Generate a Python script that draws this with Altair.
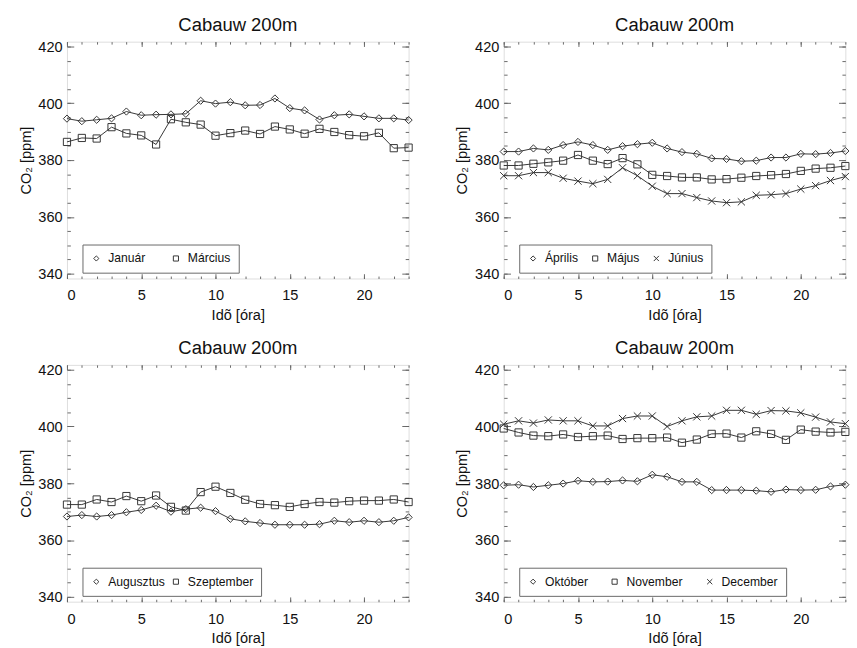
import altair as alt
import pandas as pd

hours = list(range(24))

januar = [394.6, 393.7, 394.2, 394.7, 397.1, 395.8, 396.0, 396.1, 396.3, 400.9, 399.9, 400.4,
          399.3, 399.4, 401.7, 398.3, 397.5, 394.3, 395.8, 396.1, 395.4, 394.7, 394.7, 394.1]
marcius = [386.4, 387.8, 387.6, 391.6, 389.4, 388.7, 385.5, 394.4, 393.3, 392.5, 388.6, 389.5,
           390.4, 389.2, 391.8, 390.8, 389.3, 391.0, 389.9, 388.8, 388.4, 389.6, 384.2, 384.4]

aprilis = [383.0, 383.0, 384.1, 383.6, 385.3, 386.4, 385.3, 383.6, 384.9, 385.6, 386.1, 384.1,
           382.8, 382.2, 380.6, 380.4, 379.6, 379.8, 380.9, 380.9, 382.2, 382.1, 382.5, 383.2]
majus = [378.1, 378.1, 378.7, 379.2, 379.8, 381.8, 379.8, 378.6, 380.7, 378.5, 374.8, 374.4,
         373.9, 373.9, 373.2, 373.3, 373.8, 374.4, 374.7, 375.1, 376.2, 377.0, 377.3, 377.9]
junius = [374.5, 374.5, 375.6, 375.6, 373.6, 372.6, 371.7, 373.2, 377.3, 374.5, 370.8, 368.2,
          368.2, 366.8, 365.6, 365.0, 365.3, 367.6, 367.8, 368.2, 369.8, 371.0, 372.8, 374.2]

augusztus = [368.3, 368.8, 368.3, 368.8, 369.8, 370.6, 372.1, 370.0, 370.9, 371.4, 370.2, 367.5,
             366.6, 366.0, 365.4, 365.4, 365.4, 365.6, 366.8, 366.3, 366.8, 366.3, 366.8, 368.0]
szeptember = [372.5, 372.5, 374.3, 373.4, 375.5, 373.7, 375.7, 371.7, 370.4, 376.9, 378.8, 376.6,
              374.2, 372.7, 372.3, 371.7, 372.7, 373.4, 373.2, 373.7, 373.9, 373.9, 374.3, 373.4]

oktober = [379.3, 379.5, 378.7, 379.3, 379.9, 380.9, 380.5, 380.6, 381.0, 380.7, 383.0, 382.3,
           380.5, 380.5, 377.6, 377.6, 377.6, 377.4, 377.0, 377.8, 377.6, 377.7, 378.9, 379.5]
november = [399.3, 397.9, 396.8, 396.6, 397.2, 396.3, 396.6, 396.8, 395.6, 395.9, 395.9, 396.1,
            394.3, 395.4, 397.4, 397.5, 396.1, 398.3, 397.4, 395.3, 398.9, 398.2, 397.9, 398.1]
december = [400.8, 402.0, 401.2, 402.3, 402.0, 402.0, 400.2, 400.2, 402.8, 403.7, 403.7, 400.0,
            402.0, 403.4, 403.7, 405.7, 405.7, 404.3, 405.6, 405.5, 404.8, 403.3, 401.6, 401.0]

x_major = [0, 5, 10, 15, 20]
x_minor = list(range(24))
y_major = [340, 360, 380, 400, 420]
y_minor = list(range(340, 421, 5))

panel_title = "Cabauw 200m"
x_title = "Idõ [óra]"
y_title = "CO₂ [ppm]"

FONT = "Liberation Sans"
INK = "#333333"
FRAME = "#666666"
CROSS = "M-1,-1L1,1M-1,1L1,-1"

W, H = 352, 244
XS = alt.Scale(domain=[0, 23], nice=False, zero=False)
YS = alt.Scale(domain=[338.3, 421.7], nice=False, zero=False)
XMAJ, XMIN = 4.9, 2.5
YMAJ, YMIN = 7, 3.5


def tick_axis(orient, values, size):
    return alt.Axis(orient=orient, values=values, tickSize=size, offset=-size,
                    labels=False, domain=False, grid=False, title=None,
                    ticks=True, tickColor=FRAME, tickWidth=1)


def panel(names, series, shapes, col_pad):
    rows = []
    for n, s in zip(names, series):
        for h, v in zip(hours, s):
            rows.append({"hour": h, "value": v, "series": n})
    df = pd.DataFrame(rows)
    base = alt.Chart(df)

    lines = base.mark_line(color=INK, strokeWidth=1).encode(
        x=alt.X("hour:Q", scale=XS, axis=alt.Axis(
            orient="bottom", values=x_major, ticks=False, tickSize=0, domain=False, grid=False,
            labelFont=FONT, labelFontSize=15, labelColor="#111", labelPadding=10,
            title=x_title, titleFont=FONT, titleFontSize=15, titleFontWeight="normal",
            titleColor="#111", titlePadding=5)),
        y=alt.Y("value:Q", scale=YS, axis=alt.Axis(
            orient="left", values=y_major, ticks=False, tickSize=0, domain=False, grid=False,
            labelFont=FONT, labelFontSize=15, labelColor="#111", labelPadding=5,
            title=y_title, titleFont=FONT, titleFontSize=15, titleFontWeight="normal",
            titleColor="#111", titlePadding=5)),
        detail="series:N",
    )

    pts = base.mark_point(filled=False, color=INK, strokeWidth=1, size=55, opacity=1).encode(
        x=alt.X("hour:Q", scale=XS, axis=None),
        y=alt.Y("value:Q", scale=YS, axis=None),
        shape=alt.Shape("series:N", scale=alt.Scale(domain=names, range=shapes),
                        sort=names,
                        legend=alt.Legend(
                            orient="none", legendX=16, legendY=209, direction="horizontal",
                            title=None, labelFont=FONT, labelFontSize=12.5, labelColor="#111",
                            symbolSize=28, symbolStrokeColor=INK, symbolFillColor="transparent",
                            symbolStrokeWidth=1, labelOffset=6, columnPadding=col_pad,
                            padding=8, strokeColor=FRAME, fillColor="white",
                            cornerRadius=0)),
    )

    t1 = base.mark_point(opacity=0).encode(
        x=alt.X("hour:Q", scale=XS, axis=tick_axis("bottom", x_major, XMAJ)),
        y=alt.Y("value:Q", scale=YS, axis=tick_axis("left", y_major, YMAJ)))
    t2 = base.mark_point(opacity=0).encode(
        x=alt.X("hour:Q", scale=XS, axis=tick_axis("bottom", x_minor, XMIN)),
        y=alt.Y("value:Q", scale=YS, axis=tick_axis("left", y_minor, YMIN)))
    t3 = base.mark_point(opacity=0).encode(
        x=alt.X("hour:Q", scale=XS, axis=tick_axis("top", x_major, XMAJ)),
        y=alt.Y("value:Q", scale=YS, axis=tick_axis("right", y_major, YMAJ)))
    t4 = base.mark_point(opacity=0).encode(
        x=alt.X("hour:Q", scale=XS, axis=tick_axis("top", x_minor, XMIN)),
        y=alt.Y("value:Q", scale=YS, axis=tick_axis("right", y_minor, YMIN)))

    return alt.layer(lines, pts, t1, t2, t3, t4).resolve_axis(
        x="independent", y="independent"
    ).properties(
        width=W, height=H,
        title=alt.TitleParams(panel_title, font=FONT, fontSize=19, fontWeight="normal",
                              color="#111", offset=5, anchor="middle"),
    )


p1 = panel(["Január", "Március"], [januar, marcius], ["diamond", "square"], 25)
p2 = panel(["Április", "Május", "Június"], [aprilis, majus, junius],
           ["diamond", "square", CROSS], 11)
p3 = panel(["Augusztus", "Szeptember"], [augusztus, szeptember], ["diamond", "square"], 5)
p4 = panel(["Október", "November", "December"], [oktober, november, december],
           ["diamond", "square", CROSS], 21)

chart = alt.vconcat(
    alt.hconcat(p1, p2, spacing=40).resolve_scale(shape="independent"),
    alt.hconcat(p3, p4, spacing=40).resolve_scale(shape="independent"),
    spacing=16,
).resolve_scale(shape="independent").configure_view(
    stroke=FRAME, strokeWidth=1
).configure(background="white", padding={"left": 18, "top": 6, "right": 5, "bottom": 0})

chart.save("out.html", embed_options={"renderer": "svg", "actions": False})
